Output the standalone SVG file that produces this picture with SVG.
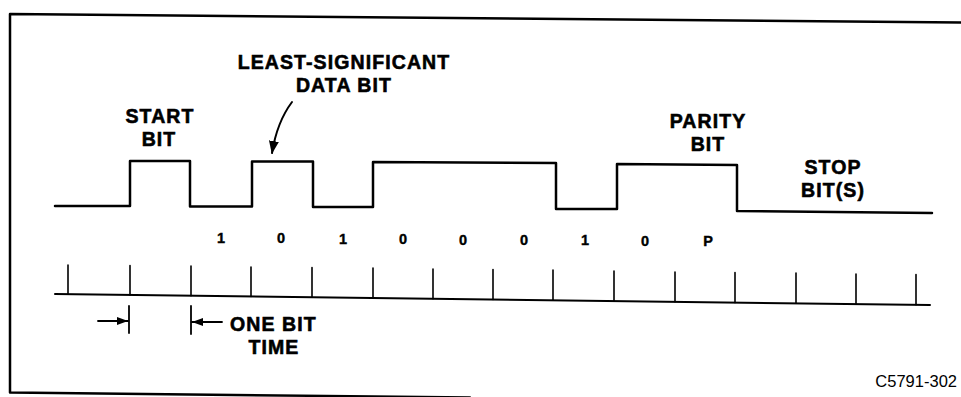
<svg xmlns="http://www.w3.org/2000/svg" width="961" height="397" viewBox="0 0 961 397">
<style>
.ln{fill:none;stroke:#000;stroke-linejoin:round;stroke-linecap:round}
.lbl{font-family:"Liberation Sans",Arial,sans-serif;font-weight:bold;font-size:19.5px;fill:#000;stroke:#000;stroke-width:0.6px;letter-spacing:1.1px}
.dig{font-family:"Liberation Sans",Arial,sans-serif;font-weight:bold;font-size:14.5px;fill:#000;stroke:#000;stroke-width:0.4px;text-anchor:middle}
.code{font-family:"Liberation Sans",Arial,sans-serif;font-size:16.5px;fill:#000;text-anchor:end}
</style>
<defs>
<marker id="ah" markerUnits="userSpaceOnUse" markerWidth="12" markerHeight="9" refX="11" refY="4" orient="auto">
<path d="M0,0 L11,4 L0,8 z" fill="#000"/>
</marker>
<marker id="ahc" markerUnits="userSpaceOnUse" markerWidth="14" markerHeight="11" refX="12" refY="5" orient="auto">
<path d="M0,0 L13,5 L0,10 z" fill="#000"/>
</marker>
</defs>
<rect width="961" height="397" fill="#fff"/>
<g id="frame">
<path class="ln" stroke-width="2.5" d="M961,22.5 L10,14 L10,392.5 L470,397.5"/>
</g>
<g id="waveform">
<path class="ln" stroke-width="2.5" d="M55,206 L130,206 L130,161 L190,161 L190,206.5 L252,206.5 L252,161.5 L313,161.5 L313,207 L373,207 L373,162 L556,163 L556,209 L617,209 L617,164 L737,165 L737,211 L932,213"/>
</g>
<g id="timeline">
<path class="ln" stroke-width="2" d="M55,294 L930,305"/>
<path class="ln" stroke-width="1.6" d="M68,294.2V265 M130,294.9V265.5 M191,295.7V266 M251,296.5V267 M312,297.2V267.5 M373,298V268 M433,298.8V269 M493,299.5V269.5 M553,300.3V270 M614,301V271 M675,301.8V272 M735,302.6V272.5 M796,303.3V273 M856,304.1V274 M916,304.8V274.5"/>
</g>
<g id="bits">
<text class="dig" x="221" y="243">1</text>
<text class="dig" x="281" y="243.4">0</text>
<text class="dig" x="343" y="243.8">1</text>
<text class="dig" x="403" y="244.2">0</text>
<text class="dig" x="463" y="244.6">0</text>
<text class="dig" x="524" y="245">0</text>
<text class="dig" x="585" y="245.4">1</text>
<text class="dig" x="645" y="245.8">0</text>
<text class="dig" x="708" y="246.2">P</text>
</g>
<g id="label-lsb">
<text class="lbl" x="344" y="69" text-anchor="middle">LEAST-SIGNIFICANT</text>
<text class="lbl" x="344" y="92" text-anchor="middle">DATA BIT</text>
</g>
<g id="label-start">
<text class="lbl" x="160" y="123" text-anchor="middle">START</text>
<text class="lbl" x="159" y="146" text-anchor="middle">BIT</text>
</g>
<g id="label-parity">
<text class="lbl" x="708" y="128" text-anchor="middle">PARITY</text>
<text class="lbl" x="708" y="151" text-anchor="middle">BIT</text>
</g>
<g id="label-stop">
<text class="lbl" x="833" y="174" text-anchor="middle">STOP</text>
<text class="lbl" x="833" y="197" text-anchor="middle">BIT(S)</text>
</g>
<g id="label-onebit">
<text class="lbl" x="230" y="331">ONE BIT</text>
<text class="lbl" x="274" y="354" text-anchor="middle">TIME</text>
</g>
<g id="connectors">
<path class="ln" stroke-width="2" d="M292,102 Q277,122 272,153" marker-end="url(#ahc)"/>
<path class="ln" stroke-width="1.8" d="M98,321 L128,321" marker-end="url(#ah)"/>
<path class="ln" stroke-width="1.8" d="M129,306 L129,333"/>
<path class="ln" stroke-width="1.8" d="M222,322 L192,322" marker-end="url(#ah)"/>
<path class="ln" stroke-width="1.8" d="M191,306 L191,334"/>
</g>
<g id="figure-code">
<text class="code" x="957" y="387">C5791-302</text>
</g>
</svg>
